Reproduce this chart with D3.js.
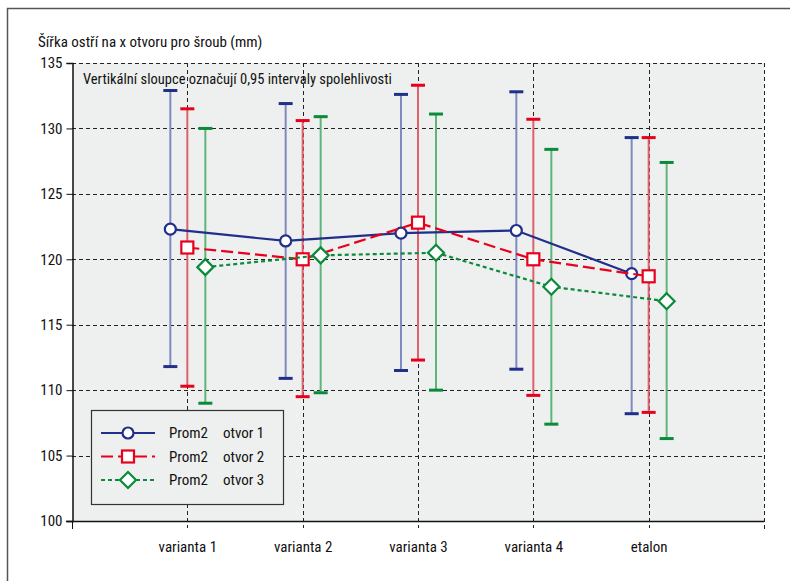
<!DOCTYPE html>
<html><head><meta charset="utf-8">
<script src="https://cdn.jsdelivr.net/npm/d3@7/dist/d3.min.js"></script>
<style>
body{margin:0;background:#fff;}
text{font-family:"Liberation Sans Narrow","Roboto Condensed","Arial Narrow",Roboto,Arial,sans-serif;fill:#111;}
</style></head>
<body><svg id="c" width="790" height="581"></svg>
<script>
const categories = ["varianta 1","varianta 2","varianta 3","varianta 4","etalon"];
const mean1 = [122.3,121.4,122.0,122.2,118.9];
const upper1 = [132.9,131.9,132.6,132.8,129.3];
const lower1 = [111.8,110.9,111.5,111.6,108.2];
const mean2 = [120.9,120.0,122.8,120.0,118.7];
const upper2 = [131.5,130.6,133.3,130.7,129.3];
const lower2 = [110.3,109.5,112.3,109.6,108.3];
const mean3 = [119.4,120.3,120.5,117.9,116.8];
const upper3 = [130.0,130.9,131.1,128.4,127.4];
const lower3 = [109.0,109.8,110.0,107.4,106.3];
const yTicks = [100,105,110,115,120,125,130,135];
const legendNames = ["Prom2","Prom2","Prom2"];
const legendOtvor = ["otvor 1","otvor 2","otvor 3"];
const titleText = "Šířka ostří na x otvoru pro šroub (mm)";
const noteText = "Vertikální sloupce označují 0,95 intervaly spolehlivosti";

const svg = d3.select("#c");
const L=72, R=764, T=63, B=521;
const x = d3.scaleLinear().domain([0,6]).range([L,R]);
const y = d3.scaleLinear().domain([100,135]).range([B,T]);
const offsets = [-17,0,18];
const colors = ["#1f2f8a","#e8001c","#0a8a3a"];
const stemColors = ["#7f8bbf","#e0606e","#5fb47a"];
const dashes = [null,"12,5","4,3"];
const series = [
  {mean:mean1,up:upper1,lo:lower1,shape:"circle"},
  {mean:mean2,up:upper2,lo:lower2,shape:"square"},
  {mean:mean3,up:upper3,lo:lower3,shape:"diamond"}
];

svg.append("path").attr("d","M7.5,581 V8.5 H790").attr("fill","none").attr("stroke","#555").attr("stroke-width",1.5);
svg.append("rect").attr("x",L).attr("y",T).attr("width",R-L).attr("height",B-T).attr("fill","#eef0ef");

const g = svg.append("g").attr("stroke","#222").attr("stroke-width",1).attr("stroke-dasharray","4,3");
yTicks.filter(t=>t>100).forEach(t=>{
  g.append("line").attr("x1",L).attr("x2",R).attr("y1",Math.round(y(t))+0.5).attr("y2",Math.round(y(t))+0.5);
});
categories.forEach((c,i)=>{
  const xx=Math.round(x(i+1))+0.5;
  g.append("line").attr("x1",xx).attr("x2",xx).attr("y1",T).attr("y2",B+7);
});
g.append("line").attr("x1",R+0.5).attr("x2",R+0.5).attr("y1",T).attr("y2",B+8).attr("stroke-dasharray",null);

const yAxis = d3.axisLeft(y).tickValues(yTicks).tickSize(6).tickPadding(4);
const ya = svg.append("g").attr("transform",`translate(${L+0.5},0)`).call(yAxis);
ya.select(".domain").attr("stroke","#111").attr("stroke-width",1.5);
ya.selectAll("line").attr("stroke","#111");
ya.selectAll("text").attr("font-size",15).style("font-family",null);

const xa = svg.append("g").attr("transform",`translate(0,${B+0.5})`)
  .call(d3.axisBottom(x).tickValues([1,2,3,4,5]).tickFormat(d=>categories[d-1]).tickSize(0).tickPadding(20));
xa.select(".domain").attr("stroke","#111").attr("stroke-width",1.5).attr("d",`M${L-6},0H${R}`);
xa.selectAll("text").attr("font-size",15).style("font-family",null);
svg.append("line").attr("x1",L+0.5).attr("x2",L+0.5).attr("y1",B).attr("y2",B+8).attr("stroke","#111");
svg.selectAll(".tick text").attr("font-family",null);
svg.selectAll("g[font-family]").attr("font-family",null).attr("font-size",null);

series.forEach((s,k)=>{
  const eg = svg.append("g");
  categories.forEach((c,i)=>{
    const xx = x(i+1)+offsets[k];
    eg.append("line").attr("x1",xx).attr("x2",xx).attr("y1",y(s.up[i])).attr("y2",y(s.lo[i]))
      .attr("stroke",stemColors[k]).attr("stroke-width",2);
    [s.up[i],s.lo[i]].forEach(v=>{
      eg.append("line").attr("x1",xx-7).attr("x2",xx+7).attr("y1",y(v)).attr("y2",y(v))
        .attr("stroke",colors[k]).attr("stroke-width",3);
    });
  });
});

function marker(sel,shape,cx,cy){
  if(shape==="circle") sel.append("circle").attr("cx",cx).attr("cy",cy).attr("r",5.5);
  else if(shape==="square") sel.append("rect").attr("x",cx-6).attr("y",cy-6).attr("width",12).attr("height",12);
  else sel.append("path").attr("d",`M${cx},${cy-8}L${cx+8},${cy}L${cx},${cy+8}L${cx-8},${cy}Z`);
}
series.forEach((s,k)=>{
  const line = d3.line().x((d,i)=>x(i+1)+offsets[k]).y(d=>y(d));
  svg.append("path").datum(s.mean).attr("d",line).attr("fill","none")
    .attr("stroke",colors[k]).attr("stroke-width",2.2).attr("stroke-dasharray",dashes[k]);
  const mg = svg.append("g").attr("fill","#fff").attr("stroke",colors[k]).attr("stroke-width",2.2);
  s.mean.forEach((v,i)=>marker(mg,s.shape,x(i+1)+offsets[k],y(v)));
});

const lg = svg.append("g");
lg.append("rect").attr("x",91.5).attr("y",410.5).attr("width",192).attr("height",94)
  .attr("fill","#eef0ef").attr("stroke","#333").attr("stroke-width",1.2);
series.forEach((s,k)=>{
  const ly = 433 + k*23.5;
  lg.append("line").attr("x1",101).attr("x2",155).attr("y1",ly).attr("y2",ly)
    .attr("stroke",colors[k]).attr("stroke-width",2.2).attr("stroke-dasharray",dashes[k]);
  const mg = lg.append("g").attr("fill","#fff").attr("stroke",colors[k]).attr("stroke-width",2.2);
  marker(mg,s.shape,128,ly);
  lg.append("text").attr("x",169).attr("y",ly+5).attr("font-size",15).text(legendNames[k]);
  lg.append("text").attr("x",223).attr("y",ly+5).attr("font-size",15).text(legendOtvor[k]);
});

svg.append("text").attr("x",38).attr("y",47).attr("font-size",15).text(titleText);
svg.append("text").attr("x",83).attr("y",84).attr("font-size",14.5).text(noteText);
</script></body></html>
